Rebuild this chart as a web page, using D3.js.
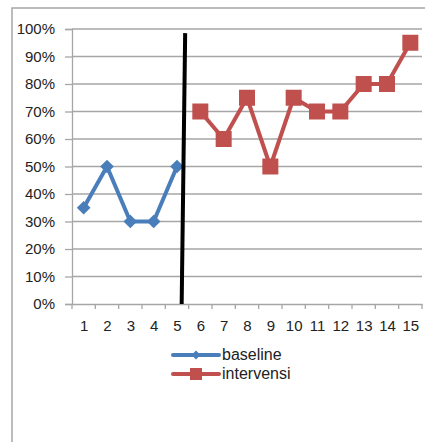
<!DOCTYPE html>
<html><head><meta charset="utf-8">
<script src="https://cdn.jsdelivr.net/npm/d3@7"></script>
<style>body{margin:0;background:#fff}svg{display:block}text{font-family:"Liberation Sans",Arial,sans-serif;fill:#222}</style>
</head><body>
<script>
const categories = [1,2,3,4,5,6,7,8,9,10,11,12,13,14,15];
const yTicks = [0,0.1,0.2,0.3,0.4,0.5,0.6,0.7,0.8,0.9,1];
const baselineX = [1,2,3,4,5];
const baselineY = [0.35,0.50,0.30,0.30,0.50];
const intervensiX = [6,7,8,9,10,11,12,13,14,15];
const intervensiY = [0.70,0.60,0.75,0.50,0.75,0.70,0.70,0.80,0.80,0.95];
const phaseLineX = [5.2,5.35];
const phaseLineY = [0,0.985];
const legendLabels = ["baseline","intervensi"];

const W=425,H=442;
const svg=d3.select("body").append("svg").attr("width",W).attr("height",H);
svg.append("path").attr("d","M12,442V8H430").attr("fill","none").attr("stroke","#a6a6a6").attr("stroke-width",1.5);

const pL=72,pR=422,pT=29,pB=304;
const x=d3.scaleLinear().domain([0.5,15.5]).range([pL,pR]);
const y=d3.scaleLinear().domain([0,1]).range([pB,pT]);

svg.append("g").selectAll("line").data(yTicks.filter(d=>d>0)).join("line")
 .attr("x1",pL).attr("x2",pR).attr("y1",d=>y(d)).attr("y2",d=>y(d))
 .attr("stroke","#a6a6a6").attr("stroke-width",1.3);

const ya=svg.append("g").attr("transform",`translate(${pL},0)`)
 .call(d3.axisLeft(y).tickValues(yTicks).tickFormat(d3.format(".0%")).tickSize(7).tickPadding(10));
ya.select(".domain").attr("stroke","#a6a6a6").attr("stroke-width",1.3);
ya.selectAll(".tick line").attr("stroke","#a6a6a6").attr("stroke-width",1.3);
ya.selectAll("text").style("font-size","15px").attr("fill","#222");

const xa=svg.append("g").attr("transform",`translate(0,${pB})`)
 .call(d3.axisBottom(x).tickValues(categories).tickFormat(d3.format("d")).tickSize(0).tickPadding(16));
xa.select(".domain").attr("stroke","#a6a6a6").attr("stroke-width",1.3);
xa.selectAll("text").style("font-size","15px").attr("fill","#222");
svg.append("g").selectAll("line").data(d3.range(0,16)).join("line")
 .attr("x1",d=>x(d+0.5)).attr("x2",d=>x(d+0.5)).attr("y1",pB).attr("y2",pB+5)
 .attr("stroke","#a6a6a6").attr("stroke-width",1.3);

const blue="#4A7EBB",red="#C0504D";
const line=d3.line().x(d=>x(d[0])).y(d=>y(d[1]));
const bData=baselineX.map((v,i)=>[v,baselineY[i]]);
const iData=intervensiX.map((v,i)=>[v,intervensiY[i]]);

svg.append("path").datum(bData).attr("d",line).attr("fill","none").attr("stroke",blue).attr("stroke-width",4).attr("stroke-linejoin","round");
svg.append("path").datum(iData).attr("d",line).attr("fill","none").attr("stroke",red).attr("stroke-width",4).attr("stroke-linejoin","round");

const diamond=d3.symbol().type(d3.symbolDiamond2).size(120);
svg.append("g").selectAll("path").data(bData).join("path")
 .attr("transform",d=>`translate(${x(d[0])},${y(d[1])})`).attr("d",diamond).attr("fill",blue);
svg.append("g").selectAll("rect").data(iData).join("rect")
 .attr("x",d=>x(d[0])-8).attr("y",d=>y(d[1])-8).attr("width",16).attr("height",16).attr("fill",red);

const pData=phaseLineX.map((v,i)=>[v,phaseLineY[i]]);
svg.append("path").datum(pData).attr("d",line).attr("stroke","#000").attr("stroke-width",4);

const lg=svg.append("g");
const lx1=173,lx2=219;
[blue,red].forEach((c,i)=>{
  const ly=355+i*19;
  lg.append("line").attr("x1",lx1).attr("x2",lx2).attr("y1",ly).attr("y2",ly).attr("stroke",c).attr("stroke-width",4).attr("stroke-linecap","round");
  if(i===0) lg.append("path").attr("transform",`translate(${(lx1+lx2)/2},${ly})`).attr("d",d3.symbol().type(d3.symbolDiamond2).size(50)).attr("fill",c);
  else lg.append("rect").attr("x",(lx1+lx2)/2-6).attr("y",ly-6).attr("width",12).attr("height",12).attr("fill",c);
  lg.append("text").attr("x",lx2+3).attr("y",ly+5).style("font-size","16px").text(legendLabels[i]);
});
</script>
</body></html>
